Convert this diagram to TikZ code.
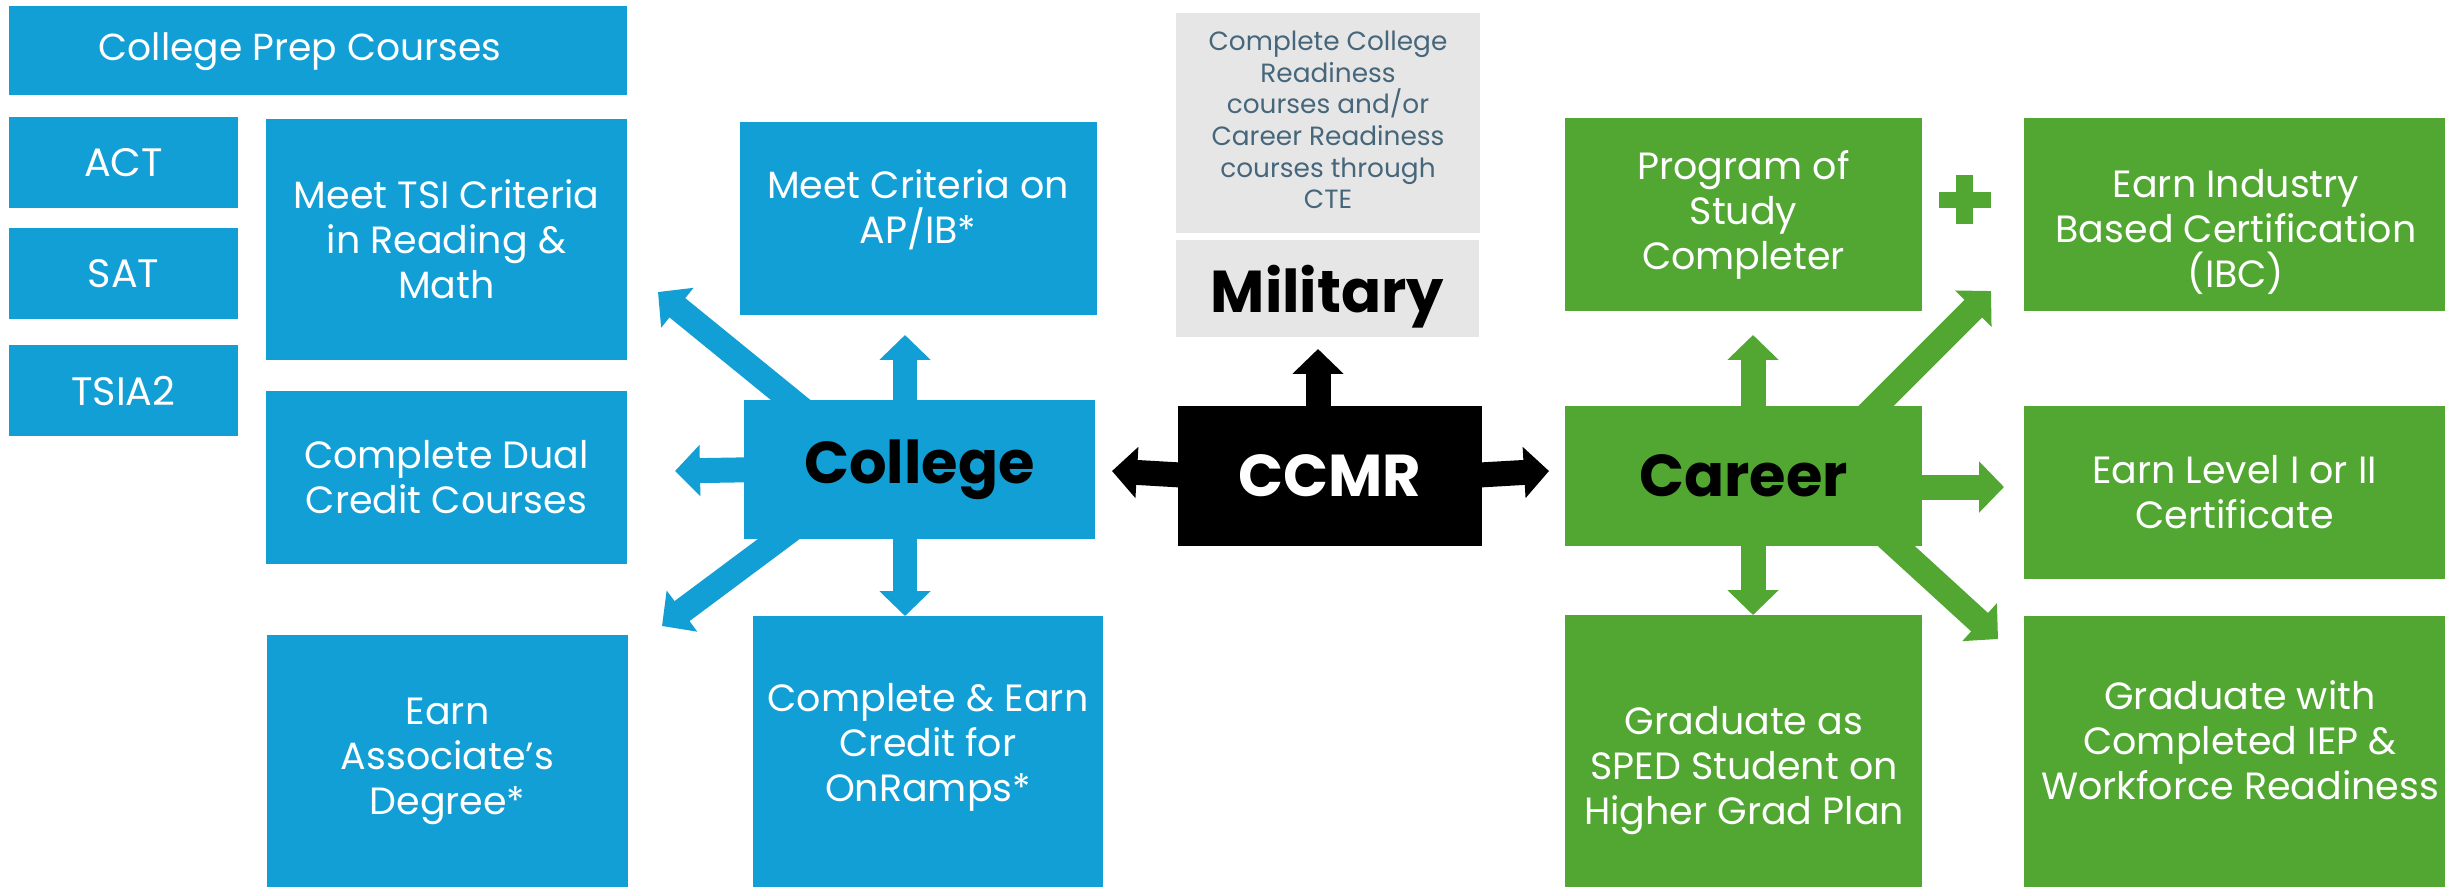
\documentclass[tikz,border=0pt]{standalone}
\usepackage{fontspec}
\setmainfont{Poppins}
\usetikzlibrary{arrows.meta,backgrounds}
\definecolor{cblue}{HTML}{119FD6}
\definecolor{cgreen}{HTML}{51A732}
\definecolor{cgray}{HTML}{E7E6E6}
\definecolor{cgtext}{HTML}{46677B}
\begin{document}
\begin{tikzpicture}[x=0.01cm,y=-0.01cm,
  box/.style={inner sep=0pt, outer sep=0pt, align=center, draw=none},
  sz/.style 2 args={minimum width=#1*0.01cm, minimum height=#2*0.01cm},
  bodyfont/.style={font=\fontsize{10.8}{12.8}\selectfont},
  testfont/.style={font=\fontsize{11.3}{13}\selectfont},
  bluebox/.style={box, fill=cblue, text=white, bodyfont},
  greenbox/.style={box, fill=cgreen, text=white, bodyfont},
  graybox/.style={box, fill=cgray, text=cgtext, font=\fontsize{7.5}{9}\selectfont},
  bigtext/.style={font=\fontsize{16.8}{20}\selectfont\bfseries},
  lbl/.style={text=white, bodyfont, align=center, inner sep=0pt},
  conn/.style={line width=7.1pt, -{Triangle[length=7.1pt,width=14.2pt]}},
  bconn/.style={conn, draw=cblue, fill=cblue},
  kconn/.style={conn, draw=black, fill=black},
  gconn/.style={conn, draw=cgreen, fill=cgreen}]
\useasboundingbox (0,0) rectangle (2445,887);

% blue boxes
\node[bluebox, sz={618}{89}] (prep) at (318,50.5) {};
\node[lbl, font=\fontsize{10.7}{13}\selectfont] (preptext) at (300,52) {College Prep Courses};
\node[bluebox, sz={229}{91}, testfont] (act) at (123.5,162.5) {ACT};
\node[bluebox, sz={229}{91}, testfont] (sat) at (123.5,273.5) {SAT};
\node[bluebox, sz={229}{91}, testfont] (tsia) at (123.5,390.5) {TSIA2};
\node[bluebox, sz={361}{241}] (tsi) at (446.5,239.5) {Meet TSI Criteria\\in Reading \&\\Math};
\node[bluebox, sz={361}{173}] (dual) at (446.5,477.5) {Complete Dual\\Credit Courses};
\node[bluebox, sz={361}{252}] (assoc) at (447.5,761) {Earn\\Associate’s\\Degree*};
\node[bluebox, sz={357}{193}] (apib) at (918.5,218.5) {};
\node[lbl] (apibtext) at (918,210) {Meet Criteria on\\AP/IB*};
\node[bluebox, sz={351}{139}, bigtext, text=black] (college) at (919.5,469.5) {College};
\node[bluebox, sz={350}{271}] (onramps) at (928,751.5) {};
\node[lbl] (onrampstext) at (928,747) {Complete \& Earn\\Credit for\\OnRamps*};

% gray + black
\node[graybox, sz={304}{220}] (ccr) at (1328,123) {};
\node[box, text=cgtext, font=\fontsize{7.5}{9}\selectfont] (ccrtext) at (1328,120) {Complete College\\Readiness\\courses and/or\\Career Readiness\\courses through\\CTE};
\node[box, fill=cgray, text=black, sz={303}{97}, bigtext, text depth=0pt] (military) at (1327.5,288.5) {Military};
\node[box, fill=black, text=white, sz={304}{140}, bigtext] (ccmr) at (1330,476) {CCMR};

% green boxes
\node[greenbox, sz={357}{193}] (program) at (1743.5,214.5) {Program of\\Study\\Completer};
\node[greenbox, sz={421}{193}] (ibc) at (2234.5,214.5) {};
\node[lbl] (ibctext) at (2236,232) {Earn Industry\\Based Certification\\(IBC)};
\node[greenbox, sz={357}{140}, bigtext, text=black] (career) at (1743.5,476) {Career};
\node[greenbox, sz={421}{173}] (level) at (2234.5,492.5) {Earn Level I or II\\Certificate};
\node[greenbox, sz={357}{272}] (sped) at (1743.5,751) {};
\node[lbl] (spedtext) at (1744,771) {Graduate as\\SPED Student on\\Higher Grad Plan};
\node[greenbox, sz={421}{271}] (iep) at (2234.5,751.5) {};
\node[lbl] (ieptext) at (2240,740) {Graduate with\\Completed IEP \&\\Workforce Readiness};

% plus sign
\fill[cgreen] (1956,175) rectangle (1973,224);
\fill[cgreen] (1939,192) rectangle (1991,208);

% arrow end points
\coordinate (tTSI) at (658,292);
\coordinate (tDual) at (675,471);
\coordinate (tAssoc) at (662,626);
\coordinate (tAP) at (905,335);
\coordinate (tOn) at (905,616);
\coordinate (tCol) at (1112,471);
\coordinate (tCar) at (1549,471);
\coordinate (tMil) at (1318,349);
\coordinate (tProg) at (1753,335);
\coordinate (tSped) at (1753,615);
\coordinate (tLev) at (2004,487);
\coordinate (tIbc) at (1991,291);
\coordinate (tIep) at (1998,639);

\begin{scope}[on background layer]
\draw[bconn] (college.north west) ++(86,32) -- (tTSI);
\draw[bconn] (college.west) ++(20,0) -- (tDual);
\draw[bconn] (college.south west) ++(67,-24) -- (tAssoc);
\draw[bconn] (college.north west) ++(161,20) -- (tAP);
\draw[bconn] (college.south west) ++(161,-20) -- (tOn);
\draw[kconn] (ccmr.west) ++(20,0) -- (tCol);
\draw[kconn] (ccmr.east) ++(-20,0) -- (tCar);
\draw[kconn] (ccmr.north west) ++(140,20) -- (tMil);
\draw[gconn] (career.north west) ++(188,20) -- (tProg);
\draw[gconn] (career.south west) ++(188,-20) -- (tSped);
\draw[gconn] (career.east) ++(-20,11) -- (tLev);
\draw[gconn] (career.north west) ++(285,26) -- (tIbc);
\draw[gconn] (career.south west) ++(305,-24) -- (tIep);
\end{scope}
\end{tikzpicture}
\end{document}
